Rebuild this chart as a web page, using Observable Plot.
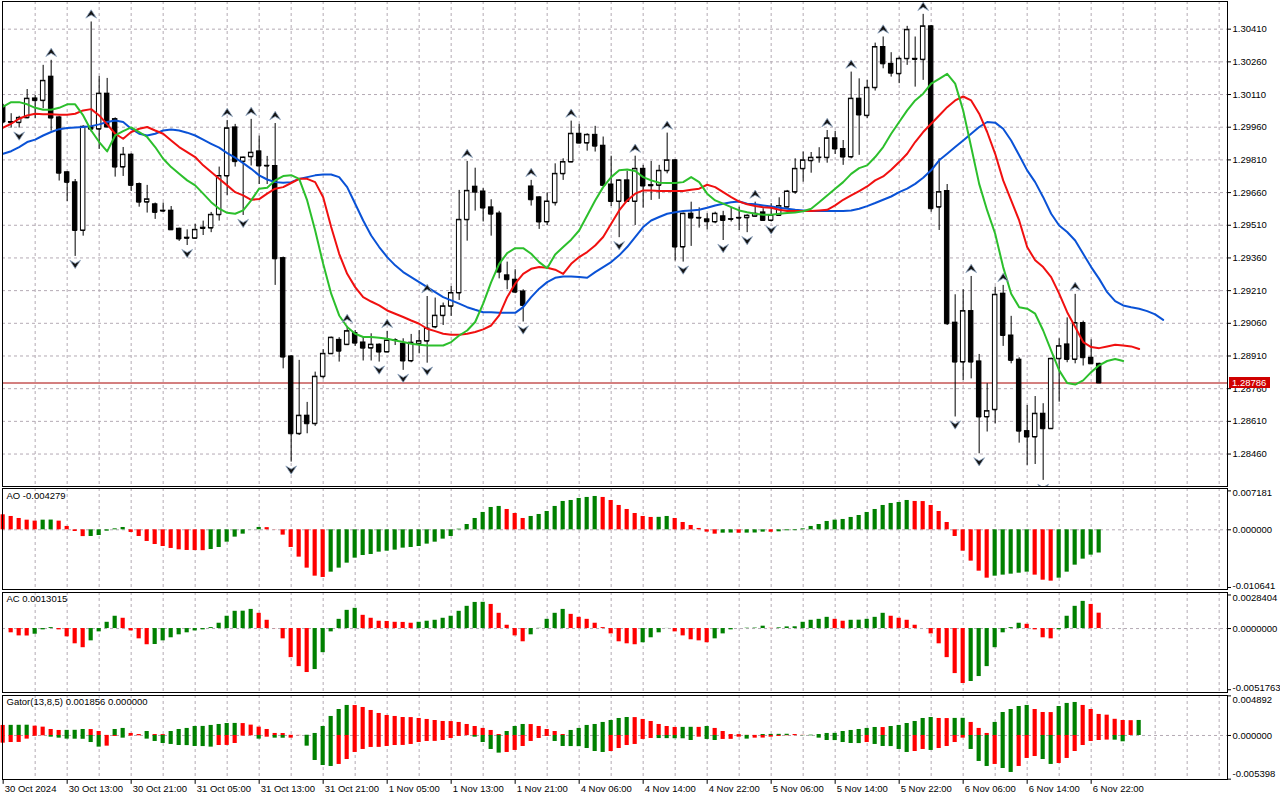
<!DOCTYPE html>
<html><head><meta charset="utf-8">
<script src="https://cdn.jsdelivr.net/npm/d3@7"></script>
<script src="https://cdn.jsdelivr.net/npm/@observablehq/plot@0.6"></script>
<style>
body{margin:0;background:#fff;}
#wrap{width:1280px;height:800px;position:relative;overflow:hidden;}
#wrap svg{display:block;}
</style></head><body><div id="wrap"></div>
<script>
// ---------------- DATA (hourly bars, index 0 = 30 Oct 05:00) ----------------
const timeLabels = ["30 Oct 2024","30 Oct 13:00","30 Oct 21:00","31 Oct 05:00","31 Oct 13:00","31 Oct 21:00","1 Nov 05:00","1 Nov 13:00","1 Nov 21:00","4 Nov 06:00","4 Nov 14:00","4 Nov 22:00","5 Nov 06:00","5 Nov 14:00","5 Nov 22:00","6 Nov 06:00","6 Nov 14:00","6 Nov 22:00"];
const priceTicks = [1.30410,1.30260,1.30110,1.29960,1.29810,1.29660,1.29510,1.29360,1.29210,1.29060,1.28910,1.28760,1.28610,1.28460];
const aoTicks = [0.007181, 0, -0.010641];
const acTicks = [0.0028404, 0, -0.0051763];
const gatorTicks = [0.004892, 0, -0.005398];

const open = [1.30055,1.29984,1.29981,1.30003,1.30092,1.30082,1.30192,1.30005,1.29753,1.29707,
1.29486,1.29961,1.29951,1.30114,1.29997,1.29777,1.29834,1.29699,1.29616,1.29606,
1.29577,1.29577,1.29494,1.29453,1.29450,1.29495,1.29497,1.29558,1.29736,1.29959,
1.29802,1.29824,1.29849,1.29783,1.29782,1.29359,1.28908,1.28553,1.28636,1.28599,
1.28815,1.28920,1.28984,1.28962,1.29015,1.28972,1.28946,1.28962,1.28928,1.28983,
1.28966,1.28887,1.28966,1.28978,1.29043,1.29095,1.29138,1.29199,1.29535,1.29687,
1.29665,1.29592,1.29564,1.29280,1.29260,1.29206,1.29688,1.29638,1.29525,1.29613,
1.29746,1.29800,1.29930,1.29887,1.29925,1.29875,1.29697,1.29619,1.29716,1.29619,
1.29769,1.29694,1.29693,1.29760,1.29808,1.29410,1.29563,1.29544,1.29537,1.29525,
1.29551,1.29538,1.29543,1.29544,1.29551,1.29569,1.29532,1.29555,1.29593,1.29662,
1.29769,1.29806,1.29820,1.29820,1.29909,1.29860,1.29823,1.30091,1.30013,1.30141,
1.30328,1.30251,1.30205,1.30274,1.30274,1.30270,1.30423,1.29593,1.29667,1.29063,
1.28882,1.29116,1.28885,1.28630,1.28663,1.29196,1.29004,1.28893,1.28565,1.28538,
1.28645,1.28576,1.28897,1.28963,1.28894,1.29061,1.28902,1.28874];
const high = [1.30065,1.30022,1.30010,1.30133,1.30106,1.30244,1.30267,1.30010,1.29756,1.29720,
1.29967,1.30443,1.30193,1.30184,1.30003,1.29867,1.29838,1.29704,1.29693,1.29612,
1.29612,1.29596,1.29497,1.29489,1.29514,1.29529,1.29569,1.29777,1.29991,1.29973,
1.29823,1.29996,1.29919,1.29826,1.29977,1.29364,1.28911,1.28890,1.28697,1.28836,
1.28939,1.28997,1.28994,1.29046,1.29027,1.28997,1.29012,1.28966,1.29023,1.28989,
1.28989,1.29009,1.29027,1.29183,1.29176,1.29153,1.29229,1.29670,1.29803,1.29772,
1.29678,1.29627,1.29574,1.29341,1.29306,1.29214,1.29716,1.29641,1.29659,1.29792,
1.29815,1.29988,1.29973,1.29930,1.29964,1.29915,1.29827,1.29719,1.29757,1.29827,
1.29785,1.29803,1.29785,1.29933,1.29811,1.29566,1.29616,1.29590,1.29563,1.29570,
1.29574,1.29593,1.29593,1.29558,1.29616,1.29586,1.29609,1.29636,1.29670,1.29815,
1.29846,1.29844,1.29866,1.29945,1.29941,1.29899,1.30213,1.30182,1.30175,1.30346,
1.30374,1.30302,1.30282,1.30423,1.30374,1.30478,1.30427,1.29815,1.29697,1.29191,
1.29214,1.29275,1.28917,1.28783,1.29226,1.29234,1.29092,1.28902,1.28683,1.28724,
1.28691,1.28900,1.28989,1.29085,1.29193,1.29070,1.28984,1.28877];
const low = [1.29976,1.29956,1.29956,1.29999,1.29999,1.30045,1.29942,1.29713,1.29619,1.29367,
1.29460,1.29938,1.29858,1.29956,1.29731,1.29734,1.29665,1.29593,1.29566,1.29537,
1.29569,1.29486,1.29436,1.29417,1.29447,1.29463,1.29476,1.29529,1.29647,1.29777,
1.29555,1.29782,1.29697,1.29697,1.29234,1.28851,1.28423,1.28545,1.28553,1.28587,
1.28804,1.28917,1.28882,1.28958,1.28954,1.28887,1.28887,1.28882,1.28925,1.28958,
1.28844,1.28879,1.28920,1.28877,1.29035,1.29050,1.29092,1.29165,1.29437,1.29575,
1.29525,1.29460,1.29264,1.29214,1.29196,1.29066,1.29598,1.29491,1.29509,1.29598,
1.29716,1.29797,1.29884,1.29850,1.29846,1.29690,1.29596,1.29453,1.29616,1.29509,
1.29589,1.29624,1.29629,1.29746,1.29346,1.29341,1.29413,1.29497,1.29489,1.29517,
1.29440,1.29525,1.29486,1.29476,1.29548,1.29529,1.29525,1.29552,1.29590,1.29652,
1.29708,1.29749,1.29795,1.29795,1.29835,1.29785,1.29815,1.29831,1.29999,1.30126,
1.30228,1.30190,1.30160,1.30244,1.30144,1.30175,1.29570,1.29486,1.29050,1.28630,
1.28798,1.28805,1.28461,1.28561,1.28599,1.28954,1.28874,1.28510,1.28408,1.28412,
1.28339,1.28573,1.28698,1.28879,1.28874,1.28864,1.28871,1.28783];
const close = [1.29984,1.29981,1.30003,1.30091,1.30082,1.30173,1.30002,1.29749,1.29707,1.29486,
1.29962,1.29951,1.30114,1.29961,1.29777,1.29834,1.29693,1.29616,1.29629,1.29569,
1.29575,1.29489,1.29447,1.29450,1.29489,1.29499,1.29558,1.29736,1.29955,1.29802,
1.29821,1.29843,1.29782,1.29782,1.29356,1.28905,1.28553,1.28636,1.28599,1.28815,
1.28920,1.28994,1.28932,1.29024,1.28969,1.28946,1.28962,1.28928,1.28981,1.28981,
1.28887,1.28971,1.28978,1.29036,1.29095,1.29138,1.29199,1.29535,1.29668,1.29662,
1.29589,1.29561,1.29295,1.29260,1.29203,1.29142,1.29627,1.29525,1.29619,1.29746,
1.29800,1.29930,1.29887,1.29925,1.29873,1.29693,1.29619,1.29716,1.29619,1.29769,
1.29690,1.29691,1.29760,1.29808,1.29410,1.29563,1.29543,1.29543,1.29526,1.29563,
1.29532,1.29537,1.29544,1.29554,1.29563,1.29532,1.29555,1.29598,1.29665,1.29769,
1.29808,1.29820,1.29821,1.29909,1.29860,1.29823,1.30091,1.30016,1.30141,1.30328,
1.30251,1.30208,1.30274,1.30407,1.30271,1.30423,1.29586,1.29662,1.29058,1.28882,
1.29116,1.28882,1.28630,1.28657,1.29191,1.29004,1.28890,1.28565,1.28538,1.28645,
1.28576,1.28897,1.28955,1.28894,1.29061,1.28902,1.28874,1.28786];

// Alligator (lips shifted 3, teeth 5, jaw 8 bars into the future)
const lips = [1.30055,1.30075,1.30075,1.30065,1.30049,1.30040,1.30040,1.30049,1.30065,1.30065,
1.30014,1.29945,1.29892,1.29849,1.29922,1.29942,1.29959,1.29938,1.29915,1.29869,
1.29815,1.29777,1.29746,1.29716,1.29693,1.29655,1.29616,1.29586,1.29567,1.29563,
1.29578,1.29624,1.29678,1.29682,1.29716,1.29736,1.29740,1.29723,1.29624,1.29486,
1.29333,1.29196,1.29096,1.29043,1.29012,1.28997,1.28997,1.28994,1.28989,1.28981,
1.28974,1.28966,1.28962,1.28958,1.28958,1.28958,1.28974,1.29004,1.29027,1.29066,
1.29150,1.29249,1.29333,1.29382,1.29405,1.29405,1.29379,1.29341,1.29313,1.29376,
1.29410,1.29444,1.29486,1.29555,1.29624,1.29685,1.29731,1.29762,1.29766,1.29759,
1.29731,1.29716,1.29705,1.29704,1.29704,1.29708,1.29731,1.29708,1.29655,1.29624,
1.29609,1.29593,1.29578,1.29570,1.29563,1.29558,1.29558,1.29563,1.29566,1.29569,
1.29574,1.29586,1.29616,1.29647,1.29678,1.29708,1.29746,1.29772,1.29785,1.29823,
1.29869,1.29930,1.29984,1.30037,1.30083,1.30114,1.30160,1.30182,1.30205,1.30160,
1.30037,1.29869,1.29700,1.29578,1.29471,1.29318,1.29196,1.29134,1.29127,1.29104,
1.29027,1.28935,1.28844,1.28786,1.28779,1.28798,1.28836,1.28867,1.28887,1.28896,
1.28887];
const teeth = [1.29958,1.29976,1.29999,1.30014,1.30022,1.30020,1.30019,1.30017,1.30017,1.30022,
1.30037,1.30043,1.30014,1.29973,1.29930,1.29907,1.29938,1.29953,1.29961,1.29945,
1.29930,1.29899,1.29869,1.29846,1.29823,1.29785,1.29754,1.29723,1.29693,1.29662,
1.29647,1.29627,1.29630,1.29655,1.29678,1.29685,1.29704,1.29723,1.29723,1.29708,
1.29639,1.29502,1.29379,1.29287,1.29226,1.29180,1.29160,1.29142,1.29119,1.29104,
1.29089,1.29073,1.29058,1.29035,1.29024,1.29012,1.29007,1.29007,1.29012,1.29020,
1.29032,1.29050,1.29096,1.29180,1.29242,1.29287,1.29310,1.29318,1.29315,1.29306,
1.29287,1.29333,1.29364,1.29387,1.29417,1.29456,1.29517,1.29578,1.29624,1.29655,
1.29670,1.29670,1.29667,1.29667,1.29667,1.29667,1.29673,1.29678,1.29696,1.29685,
1.29662,1.29639,1.29619,1.29606,1.29598,1.29593,1.29590,1.29581,1.29575,1.29575,
1.29575,1.29575,1.29578,1.29581,1.29601,1.29627,1.29647,1.29667,1.29688,1.29716,
1.29734,1.29765,1.29800,1.29838,1.29892,1.29938,1.29976,1.30014,1.30052,1.30083,
1.30101,1.30083,1.30022,1.29938,1.29838,1.29716,1.29624,1.29532,1.29410,1.29349,
1.29318,1.29272,1.29196,1.29111,1.29043,1.28974,1.28951,1.28946,1.28954,1.28962,
1.28958,1.28954,1.28942];
const jaw = [1.29838,1.29850,1.29869,1.29892,1.29903,1.29922,1.29938,1.29951,1.29956,1.29959,
1.29961,1.29965,1.29973,1.29984,1.29991,1.29984,1.29953,1.29930,1.29922,1.29930,
1.29945,1.29950,1.29945,1.29935,1.29922,1.29903,1.29884,1.29866,1.29841,1.29820,
1.29795,1.29769,1.29739,1.29720,1.29708,1.29705,1.29708,1.29723,1.29731,1.29739,
1.29743,1.29743,1.29731,1.29685,1.29609,1.29532,1.29463,1.29410,1.29364,1.29326,
1.29295,1.29272,1.29249,1.29226,1.29203,1.29180,1.29165,1.29150,1.29134,1.29122,
1.29111,1.29111,1.29108,1.29108,1.29108,1.29134,1.29180,1.29219,1.29249,1.29269,
1.29275,1.29275,1.29272,1.29269,1.29295,1.29318,1.29341,1.29372,1.29410,1.29456,
1.29502,1.29532,1.29548,1.29563,1.29570,1.29575,1.29578,1.29581,1.29590,1.29601,
1.29609,1.29616,1.29619,1.29609,1.29606,1.29601,1.29596,1.29590,1.29586,1.29581,
1.29578,1.29575,1.29575,1.29575,1.29575,1.29575,1.29578,1.29586,1.29598,1.29612,
1.29627,1.29642,1.29662,1.29678,1.29700,1.29728,1.29762,1.29808,1.29838,1.29869,
1.29899,1.29930,1.29961,1.29984,1.29981,1.29953,1.29899,1.29831,1.29762,1.29708,
1.29639,1.29563,1.29509,1.29479,1.29440,1.29379,1.29318,1.29264,1.29203,1.29162,
1.29142,1.29134,1.29127,1.29116,1.29101,1.29076];

// Bill Williams fractals (bar indices)
const fractalUp = [6,11,28,31,34,43,48,53,58,66,71,79,83,94,103,106,110,115,121,125,134];
const fractalDown = [2,9,23,30,36,47,50,53,65,77,85,90,93,96,119,122,130];

// Awesome Oscillator
const ao = [0.00277,0.00246,0.00209,0.00178,0.00160,0.00178,0.00180,0.00160,0.00062,-0.00031,
-0.00125,-0.00123,-0.00105,-0.00025,0.00018,0.00043,-0.00049,-0.00123,-0.00215,-0.00271,
-0.00308,-0.00344,-0.00369,-0.00381,-0.00383,-0.00385,-0.00363,-0.00326,-0.00228,-0.00135,
-0.00080,0.00002,0.00043,0.00040,-0.00003,-0.00098,-0.00326,-0.00504,-0.00707,-0.00855,
-0.00879,-0.00781,-0.00707,-0.00615,-0.00523,-0.00474,-0.00455,-0.00412,-0.00394,-0.00375,
-0.00338,-0.00326,-0.00308,-0.00264,-0.00228,-0.00172,-0.00123,0.00012,0.00098,0.00209,
0.00320,0.00412,0.00431,0.00375,0.00301,0.00209,0.00246,0.00283,0.00338,0.00431,
0.00523,0.00541,0.00578,0.00597,0.00615,0.00597,0.00541,0.00449,0.00375,0.00301,
0.00246,0.00228,0.00230,0.00246,0.00209,0.00135,0.00080,0.00025,-0.00043,-0.00080,
-0.00062,-0.00060,-0.00063,-0.00061,-0.00059,-0.00043,-0.00045,-0.00037,-0.00018,-0.00016,
0.00018,0.00062,0.00098,0.00154,0.00178,0.00191,0.00228,0.00264,0.00320,0.00375,
0.00449,0.00486,0.00504,0.00541,0.00523,0.00521,0.00449,0.00338,0.00135,-0.00123,
-0.00394,-0.00578,-0.00763,-0.00892,-0.00855,-0.00836,-0.00818,-0.00800,-0.00781,-0.00836,
-0.00929,-0.00947,-0.00892,-0.00781,-0.00652,-0.00541,-0.00467,-0.004279];

// Accelerator Oscillator
const ac = [0.00000,-0.00036,-0.00062,-0.00063,-0.00048,-0.00011,0.00008,-0.00011,-0.00070,-0.00129,
-0.00162,-0.00104,-0.00028,0.00053,0.00104,0.00087,-0.00020,-0.00087,-0.00137,-0.00135,
-0.00104,-0.00078,-0.00053,-0.00036,-0.00020,-0.00011,0.00008,0.00045,0.00104,0.00146,
0.00147,0.00162,0.00129,0.00070,-0.00001,-0.00087,-0.00246,-0.00322,-0.00372,-0.00347,
-0.00204,-0.00028,0.00078,0.00154,0.00171,0.00112,0.00087,0.00062,0.00060,0.00053,
0.00052,0.00045,0.00053,0.00062,0.00070,0.00087,0.00104,0.00146,0.00188,0.00221,
0.00222,0.00204,0.00129,0.00028,-0.00062,-0.00112,-0.00053,0.00002,0.00078,0.00129,
0.00162,0.00120,0.00095,0.00078,0.00045,0.00008,-0.00045,-0.00112,-0.00129,-0.00137,
-0.00120,-0.00078,-0.00036,0.00001,-0.00028,-0.00062,-0.00095,-0.00104,-0.00120,-0.00087,
-0.00045,-0.00011,0.00000,0.00003,0.00004,0.00020,0.00002,0.00006,0.00014,0.00015,
0.00053,0.00070,0.00078,0.00095,0.00078,0.00062,0.00070,0.00071,0.00078,0.00095,
0.00129,0.00104,0.00087,0.00070,0.00028,0.00000,-0.00045,-0.00129,-0.00246,-0.00381,
-0.00465,-0.00448,-0.00406,-0.00322,-0.00162,-0.00036,0.00008,0.00045,0.00036,-0.00011,
-0.00078,-0.00087,-0.00011,0.00104,0.00188,0.00230,0.00204,0.0013015];

// Gator oscillator: upper |jaw-teeth|, lower |teeth-lips| (absolute values)
const gatorUpper = [0.00124,0.00125,0.00126,0.00127,0.00115,0.00103,0.00074,0.00062,0.00063,0.00064,
0.00074,0.00073,0.00049,0.00001,0.00074,0.00087,0.00025,0.00012,0.00049,0.00012,
0.00011,0.00049,0.00074,0.00087,0.00111,0.00112,0.00124,0.00136,0.00148,0.00149,
0.00147,0.00128,0.00103,0.00074,0.00025,0.00024,0.00002,0.00001,0.00003,0.00025,
0.00111,0.00235,0.00321,0.00371,0.00370,0.00346,0.00309,0.00272,0.00247,0.00235,
0.00222,0.00221,0.00210,0.00198,0.00185,0.00173,0.00172,0.00161,0.00136,0.00111,
0.00087,0.00062,0.00012,0.00049,0.00111,0.00136,0.00135,0.00111,0.00074,0.00049,
0.00012,0.00062,0.00087,0.00124,0.00136,0.00161,0.00185,0.00210,0.00222,0.00221,
0.00198,0.00173,0.00136,0.00111,0.00099,0.00100,0.00101,0.00100,0.00111,0.00087,
0.00049,0.00012,0.00011,0.00002,0.00001,0.00012,0.00013,0.00014,0.00015,0.00012,
0.00002,0.00004,0.00012,0.00025,0.00026,0.00049,0.00062,0.00074,0.00087,0.00099,
0.00098,0.00111,0.00124,0.00148,0.00173,0.00210,0.00222,0.00210,0.00209,0.00211,
0.00212,0.00161,0.00087,0.00025,0.00161,0.00284,0.00321,0.00358,0.00371,0.00321,
0.00284,0.00283,0.00358,0.00396,0.00408,0.00371,0.00321,0.00260,0.00251,0.00200,
0.00185,0.00183,0.001856];
const gatorLower = [0.00095,0.00087,0.00086,0.00045,0.00010,0.00004,0.00021,0.00033,0.00045,0.00046,
0.00047,0.00087,0.00144,0.00132,0.00012,0.00033,0.00008,0.00004,0.00045,0.00074,
0.00099,0.00111,0.00124,0.00125,0.00136,0.00137,0.00144,0.00124,0.00123,0.00099,
0.00008,0.00004,0.00045,0.00021,0.00033,0.00034,0.00033,0.00002,0.00132,0.00309,
0.00371,0.00383,0.00358,0.00297,0.00210,0.00173,0.00148,0.00147,0.00136,0.00124,
0.00123,0.00111,0.00087,0.00074,0.00073,0.00062,0.00037,0.00012,0.00002,0.00021,
0.00087,0.00173,0.00218,0.00210,0.00185,0.00136,0.00074,0.00037,0.00012,0.00074,
0.00136,0.00137,0.00138,0.00161,0.00198,0.00210,0.00198,0.00161,0.00124,0.00111,
0.00049,0.00037,0.00038,0.00039,0.00040,0.00041,0.00062,0.00021,0.00049,0.00062,
0.00049,0.00048,0.00021,0.00045,0.00033,0.00032,0.00021,0.00012,0.00004,0.00002,
0.00003,0.00004,0.00033,0.00062,0.00063,0.00087,0.00099,0.00100,0.00087,0.00111,
0.00136,0.00137,0.00173,0.00210,0.00198,0.00173,0.00185,0.00161,0.00136,0.00087,
0.00033,0.00173,0.00321,0.00383,0.00358,0.00408,0.00457,0.00383,0.00284,0.00260,
0.00297,0.00358,0.00346,0.00284,0.00198,0.00124,0.00074,0.00062,0.00057,0.00058,
0.00078];

// ---------------- LAYOUT / STYLE ----------------
const W = 1280, ML = 2, MR = 53;
const FONT = '"Liberation Sans", Arial, sans-serif';
const FS = "9.5px";
const GRID = "#b4aab4";
const UP = "#008000", DN = "#ff0000";
const xDom = [(2 - 2.67) / 8, (1227 - 2.67) / 8];
const xR = xDom[1];
const xScale = {type: "linear", domain: xDom, axis: null};
const vGrid = d3.range(4, 154, 4);
const barW = 0.26;
const wrap = document.getElementById("wrap");
const baseStyle = {fontFamily: FONT, fontSize: FS, background: "white", color: "black", overflow: "visible"};

const candles = open.map((o, i) => ({k: i, open: o, high: high[i], low: low[i], close: close[i]}));
const last = close[close.length - 1];

// MT5-like fractal arrowheads
const arrowUp = {draw(ctx, size) { const r = Math.sqrt(size) / 2;
  ctx.moveTo(0, -0.85 * r); ctx.lineTo(1.1 * r, 0.85 * r); ctx.lineTo(0, 0.2 * r); ctx.lineTo(-1.1 * r, 0.85 * r); ctx.closePath(); }};
const arrowDown = {draw(ctx, size) { const r = Math.sqrt(size) / 2;
  ctx.moveTo(0, 0.85 * r); ctx.lineTo(1.1 * r, -0.85 * r); ctx.lineTo(0, -0.2 * r); ctx.lineTo(-1.1 * r, -0.85 * r); ctx.closePath(); }};

function rightAxis(ticks, fmt, dys) {
  const marks = [Plot.ruleY(ticks, {y: d => d, x1: () => xR, x2: () => xR + 0.5, stroke: "black"})];
  ticks.forEach((t, i) => marks.push(Plot.text([t], {x: () => xR, y: d => d, text: d => fmt(d), dx: 5, dy: dys ? dys[i] : 0, textAnchor: "start", fill: "black"})));
  return marks;
}
const colorDir = (arr) => arr.map((v, i) => (i > 0 && v > arr[i - 1]) ? UP : DN);

// ---------------- MAIN PRICE PANEL ----------------
const main = Plot.plot({
  width: W, height: 487, marginLeft: ML, marginRight: MR, marginTop: 1, marginBottom: 1,
  x: xScale, y: {domain: [1.28311, 1.30537], axis: null}, color: {type: "identity"},
  style: baseStyle,
  marks: [
    Plot.gridX(vGrid, {stroke: GRID, strokeOpacity: 1, strokeDasharray: "3,3"}),
    Plot.gridY(priceTicks, {stroke: GRID, strokeOpacity: 1, strokeDasharray: "3,3"}),
    Plot.ruleY([last], {stroke: "#a80000", strokeWidth: 1}),
    Plot.ruleX(candles, {x: "k", y1: "low", y2: "high", stroke: "black", clip: true}),
    Plot.rect(candles, {x1: d => d.k - 0.28, x2: d => d.k + 0.28, y1: "open", y2: "close",
      fill: d => d.close >= d.open ? "white" : "black", stroke: "black", strokeWidth: 1, clip: true}),
    Plot.ruleY(candles, {y: "open", x1: d => d.k - 0.28, x2: d => d.k + 0.28, stroke: "black", clip: true}),
    Plot.ruleY(candles, {y: "close", x1: d => d.k - 0.28, x2: d => d.k + 0.28, stroke: "black", clip: true}),
    Plot.line(jaw, {x: (d, i) => i, y: d => d, stroke: "#0a52d6", strokeWidth: 2, clip: true}),
    Plot.line(teeth, {x: (d, i) => i, y: d => d, stroke: "#f01010", strokeWidth: 2, clip: true}),
    Plot.line(lips, {x: (d, i) => i, y: d => d, stroke: "#2cbf2c", strokeWidth: 2, clip: true}),
    Plot.dot(fractalUp, {x: d => d, y: d => high[d], symbol: arrowUp, r: 5.5, dy: -8,
      fill: "#141414", stroke: "#8fa6c2", strokeWidth: 0.8, clip: true}),
    Plot.dot(fractalDown, {x: d => d, y: d => low[d], symbol: arrowDown, r: 5.5, dy: 8,
      fill: "#141414", stroke: "#8fa6c2", strokeWidth: 0.8, clip: true}),
    Plot.frame({stroke: "black"}),
    ...rightAxis(priceTicks, d => d.toFixed(5))
  ]
});
wrap.appendChild(main);
{
  const yy = main.scale("y").apply(last);
  const svg = d3.select(main);
  svg.append("rect").attr("x", 1229).attr("y", yy - 5.5).attr("width", 41).attr("height", 11).attr("fill", "#d00000");
  svg.append("text").attr("x", 1232).attr("y", yy).attr("dy", "0.35em").attr("fill", "white")
    .attr("text-anchor", "start").attr("font-family", FONT).attr("font-size", FS).text(last.toFixed(5));
}

// ---------------- AO PANEL ----------------
const aoColors = colorDir(ao);
const aoPlot = Plot.plot({
  width: W, height: 103, marginLeft: ML, marginRight: MR, marginTop: 1, marginBottom: 1,
  x: xScale, y: {domain: [-0.01101, 0.00762], axis: null}, color: {type: "identity"},
  style: baseStyle,
  marks: [
    Plot.gridX(vGrid, {stroke: GRID, strokeOpacity: 1, strokeDasharray: "3,3"}),
    Plot.gridY([0], {stroke: GRID, strokeOpacity: 1, strokeDasharray: "3,3"}),
    Plot.rect(ao, {x1: (d, i) => i - barW, x2: (d, i) => i + barW, y1: 0, y2: d => d, fill: (d, i) => aoColors[i]}),
    Plot.frame({stroke: "black"}),
    Plot.text([`AO ${ao[ao.length - 1].toFixed(6)}`], {frameAnchor: "top-left", dx: 4, dy: 4, lineAnchor: "top", fill: "black"}),
    ...rightAxis(aoTicks, d => d.toFixed(6), [2, 0, -2])
  ]
});
wrap.appendChild(aoPlot);

// ---------------- AC PANEL ----------------
const acColors = colorDir(ac);
const acPlot = Plot.plot({
  width: W, height: 103, marginLeft: ML, marginRight: MR, marginTop: 2, marginBottom: 1,
  x: xScale, y: {domain: [-0.00541, 0.00305], axis: null}, color: {type: "identity"},
  style: baseStyle,
  marks: [
    Plot.gridX(vGrid, {stroke: GRID, strokeOpacity: 1, strokeDasharray: "3,3"}),
    Plot.gridY([0], {stroke: GRID, strokeOpacity: 1, strokeDasharray: "3,3"}),
    Plot.rect(ac, {x1: (d, i) => i - barW, x2: (d, i) => i + barW, y1: 0, y2: d => d, fill: (d, i) => acColors[i]}),
    Plot.frame({stroke: "black"}),
    Plot.text([`AC ${ac[ac.length - 1].toFixed(7)}`], {frameAnchor: "top-left", dx: 4, dy: 3, lineAnchor: "top", fill: "black"}),
    ...rightAxis(acTicks, d => d.toFixed(7), [2.5, 0, -2])
  ]
});
wrap.appendChild(acPlot);

// ---------------- GATOR PANEL + TIME AXIS ----------------
const gUpColors = colorDir(gatorUpper);
const gLoColors = colorDir(gatorLower);
const gDom = [-0.00544, 0.00494];
const tickIdx = timeLabels.map((d, i) => i * 8);
const gatorPlot = Plot.plot({
  width: W, height: 107, marginLeft: ML, marginRight: MR, marginTop: 2, marginBottom: 21,
  x: xScale, y: {domain: gDom, axis: null}, color: {type: "identity"},
  style: baseStyle,
  marks: [
    Plot.gridX(vGrid, {stroke: GRID, strokeOpacity: 1, strokeDasharray: "3,3"}),
    Plot.gridY([0], {stroke: GRID, strokeOpacity: 1, strokeDasharray: "3,3"}),
    Plot.rect(gatorUpper, {x1: (d, i) => i - barW, x2: (d, i) => i + barW, y1: 0, y2: d => d, fill: (d, i) => gUpColors[i]}),
    Plot.rect(gatorLower, {x1: (d, i) => i - barW, x2: (d, i) => i + barW, y1: 0, y2: d => -d, fill: (d, i) => gLoColors[i]}),
    Plot.frame({stroke: "black"}),
    Plot.text([`Gator(13,8,5) ${gatorUpper[gatorUpper.length - 1].toFixed(6)} ${(0).toFixed(6)}`], {frameAnchor: "top-left", dx: 4, dy: 3, lineAnchor: "top", fill: "black"}),
    ...rightAxis(gatorTicks, d => d.toFixed(6), [4.5, 0, -5]),
    Plot.ruleX(tickIdx, {x: d => d, y1: () => gDom[0], y2: () => gDom[0] - 0.0006, stroke: "black"}),
    Plot.text(timeLabels, {x: (d, i) => tickIdx[i], y: () => gDom[0], text: d => d, dx: 1.5, dy: 9, textAnchor: "start", fill: "black"})
  ]
});
wrap.appendChild(gatorPlot);
</script></body></html>
